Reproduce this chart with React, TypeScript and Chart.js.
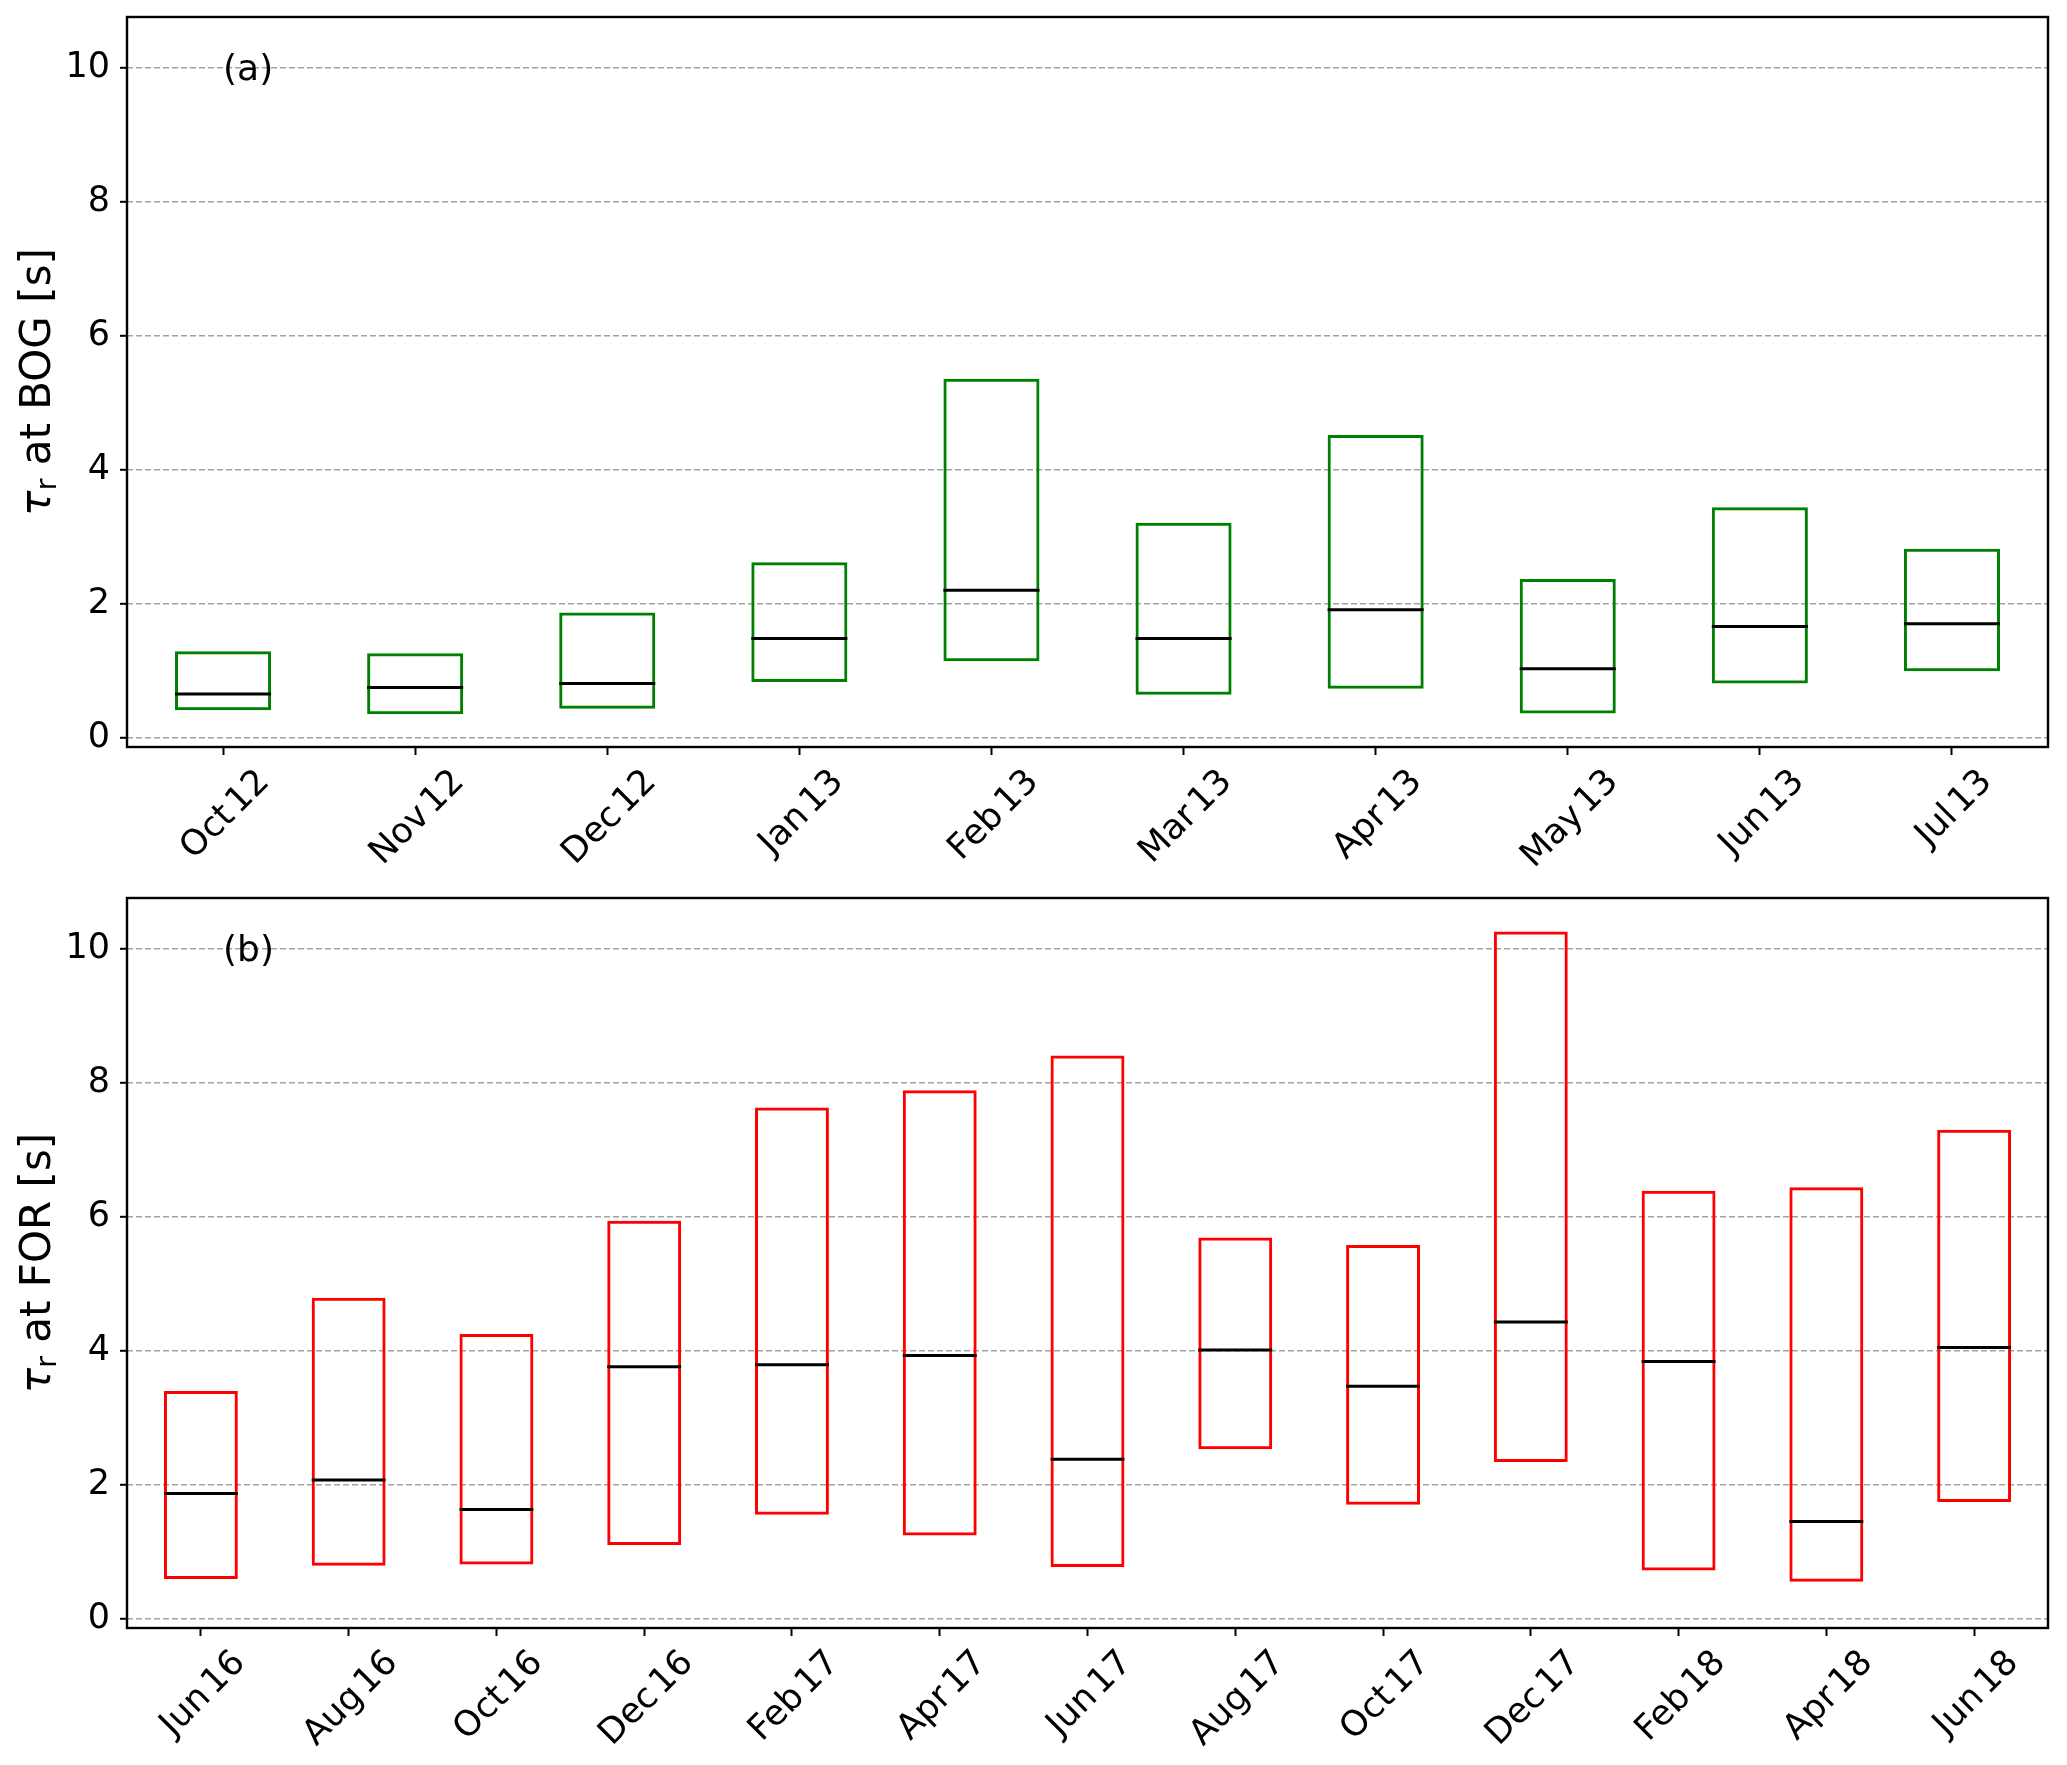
import { useEffect, useRef } from "react";
import { Chart, registerables } from "chart.js";

Chart.register(...registerables);

// ---------- data ----------
const bogMonths = ["Oct 12", "Nov 12", "Dec 12", "Jan 13", "Feb 13", "Mar 13", "Apr 13", "May 13", "Jun 13", "Jul 13"];
const bogLow = [0.41, 0.35, 0.43, 0.83, 1.14, 0.64, 0.73, 0.36, 0.81, 0.99];
const bogMedian = [0.65, 0.75, 0.81, 1.48, 2.2, 1.48, 1.91, 1.03, 1.66, 1.7];
const bogHigh = [1.29, 1.26, 1.87, 2.62, 5.36, 3.21, 4.52, 2.37, 3.44, 2.82];

const forMonths = ["Jun 16", "Aug 16", "Oct 16", "Dec 16", "Feb 17", "Apr 17", "Jun 17", "Aug 17", "Oct 17", "Dec 17", "Feb 18", "Apr 18", "Jun 18"];
const forLow = [0.59, 0.79, 0.81, 1.1, 1.55, 1.24, 0.77, 2.53, 1.7, 2.34, 0.72, 0.55, 1.74];
const forMedian = [1.87, 2.07, 1.63, 3.76, 3.79, 3.93, 2.38, 4.01, 3.47, 4.43, 3.84, 1.45, 4.05];
const forHigh = [3.4, 4.79, 4.25, 5.94, 7.63, 7.89, 8.41, 5.69, 5.58, 10.26, 6.39, 6.44, 7.3];

const yTickValues = [0, 2, 4, 6, 8, 10];
const yMin = -0.14;
const yMax = 10.76;

// ---------- styling ----------
const FONT = '"DejaVu Sans", sans-serif';
const TICK_FONT = 35;
const TITLE_FONT = 42;
const TAG_FONT = 36;

function decorPlugin(labels: string[], medians: number[], tag: string, station: string) {
  return {
    id: "decor",
    afterDatasetsDraw(chart: any) {
      const ctx = chart.ctx;
      const meta = chart.getDatasetMeta(0);
      const ys = chart.scales.y;
      ctx.save();
      ctx.strokeStyle = "#000";
      ctx.lineWidth = 3;
      meta.data.forEach((el: any, i: number) => {
        const p = el.getProps(["x", "width"], true);
        const y = ys.getPixelForValue(medians[i]);
        ctx.beginPath();
        ctx.moveTo(p.x - p.width / 2, y);
        ctx.lineTo(p.x + p.width / 2, y);
        ctx.stroke();
      });
      ctx.restore();
    },
    afterDraw(chart: any) {
      const ctx = chart.ctx;
      const a = chart.chartArea;
      const xs = chart.scales.x;
      ctx.save();
      // frame
      ctx.strokeStyle = "#000";
      ctx.lineWidth = 2.4;
      ctx.strokeRect(a.left, a.top, a.right - a.left, a.bottom - a.top);

      // rotated x tick labels, centred on the tick
      ctx.fillStyle = "#000";
      ctx.font = `${TICK_FONT}px ${FONT}`;
      ctx.textAlign = "left";
      ctx.textBaseline = "alphabetic";
      const cap = 0.73 * TICK_FONT;
      const gap = 0.12 * TICK_FONT;
      labels.forEach((t, i) => {
        const x = xs.getPixelForTick(i);
        const parts = t.split(" ");
        const widths = parts.map((p) => ctx.measureText(p).width);
        const w = widths.reduce((s, v) => s + v, 0) + gap * (parts.length - 1);
        const cy = a.bottom + 18 + (w + cap) / (2 * Math.SQRT2);
        ctx.save();
        ctx.translate(x, cy);
        ctx.rotate(-Math.PI / 4);
        let px = -w / 2;
        parts.forEach((p, k) => {
          ctx.fillText(p, px, cap / 2);
          px += widths[k] + gap;
        });
        ctx.restore();
      });

      // y axis title with subscript
      const cyT = (a.top + a.bottom) / 2;
      ctx.save();
      ctx.translate(50, cyT);
      ctx.rotate(-Math.PI / 2);
      const tauFont = `italic ${TITLE_FONT}px ${FONT}`;
      const subFont = `${Math.round(TITLE_FONT * 0.7)}px ${FONT}`;
      const mainFont = `${TITLE_FONT}px ${FONT}`;
      const rest = ` at ${station} [s]`;
      ctx.font = tauFont;
      const wTau = ctx.measureText("τ").width;
      ctx.font = subFont;
      const wSub = ctx.measureText("r").width;
      ctx.font = mainFont;
      const wRest = ctx.measureText(rest).width;
      let x0 = -(wTau + wSub + wRest) / 2;
      ctx.font = tauFont;
      ctx.fillText("τ", x0, 0);
      x0 += wTau;
      ctx.font = subFont;
      ctx.fillText("r", x0, 6);
      x0 += wSub;
      ctx.font = mainFont;
      ctx.fillText(rest, x0, 0);
      ctx.restore();

      // panel tag
      ctx.font = `${TAG_FONT}px ${FONT}`;
      ctx.fillText(tag, a.left + 0.05 * (a.right - a.left), a.top + 0.07 * (a.bottom - a.top) + 0.33 * TAG_FONT);
      ctx.restore();
    },
  };
}

function makeConfig(
  labels: string[],
  low: number[],
  high: number[],
  median: number[],
  color: string,
  tag: string,
  station: string,
  padTop: number,
  xHeight: number
): any {
  return {
    type: "bar",
    data: {
      labels,
      datasets: [
        {
          data: low.map((l, i) => [l, high[i]]),
          backgroundColor: "rgba(0,0,0,0)",
          borderColor: color,
          borderWidth: 3,
          borderSkipped: false,
          barPercentage: 0.5,
          categoryPercentage: 1.0,
        },
      ],
    },
    options: {
      responsive: false,
      animation: false,
      events: [],
      layout: { padding: { top: padTop, right: 19, left: 0, bottom: 0 } },
      plugins: { legend: { display: false }, tooltip: { enabled: false }, title: { display: false } },
      scales: {
        x: {
          type: "category",
          offset: true,
          grid: {
            display: true,
            drawOnChartArea: false,
            drawTicks: true,
            tickLength: 8,
            tickColor: "#000",
            tickWidth: 2,
            offset: false,
          },
          border: { display: false },
          ticks: { display: false },
          afterFit: (s: any) => {
            s.height = xHeight;
            s.paddingLeft = 0;
            s.paddingRight = 0;
          },
        },
        y: {
          type: "linear",
          min: yMin,
          max: yMax,
          afterBuildTicks: (s: any) => {
            s.ticks = yTickValues.map((v) => ({ value: v }));
          },
          afterFit: (s: any) => {
            s.width = 127;
            s.paddingTop = 0;
            s.paddingBottom = 0;
          },
          grid: {
            color: "#a2a2a2",
            lineWidth: 1.6,
            drawTicks: true,
            tickLength: 7,
            tickColor: "#000",
            tickWidth: 2,
            tickBorderDash: [],
          },
          border: { display: false, dash: [6, 3] },
          ticks: {
            color: "#000",
            padding: 10,
            font: { family: "DejaVu Sans", size: TICK_FONT },
          },
        },
      },
    },
    plugins: [decorPlugin(labels, median, tag, station)],
  };
}

export default function App() {
  const topRef = useRef<HTMLCanvasElement>(null);
  const botRef = useRef<HTMLCanvasElement>(null);

  useEffect(() => {
    const c1 = new Chart(
      topRef.current as HTMLCanvasElement,
      makeConfig(bogMonths, bogLow, bogHigh, bogMedian, "green", "(a)", "BOG", 17, 133)
    );
    const c2 = new Chart(
      botRef.current as HTMLCanvasElement,
      makeConfig(forMonths, forLow, forHigh, forMedian, "red", "(b)", "FOR", 18, 137)
    );
    return () => {
      c1.destroy();
      c2.destroy();
    };
  }, []);

  return (
    <div style={{ position: "absolute", left: 0, top: 0, width: 2067, height: 1765, background: "#fff" }}>
      <canvas
        ref={topRef}
        width={2067}
        height={880}
        style={{ position: "absolute", left: 0, top: 0, width: 2067, height: 880 }}
      />
      <canvas
        ref={botRef}
        width={2067}
        height={885}
        style={{ position: "absolute", left: 0, top: 880, width: 2067, height: 885 }}
      />
    </div>
  );
}
